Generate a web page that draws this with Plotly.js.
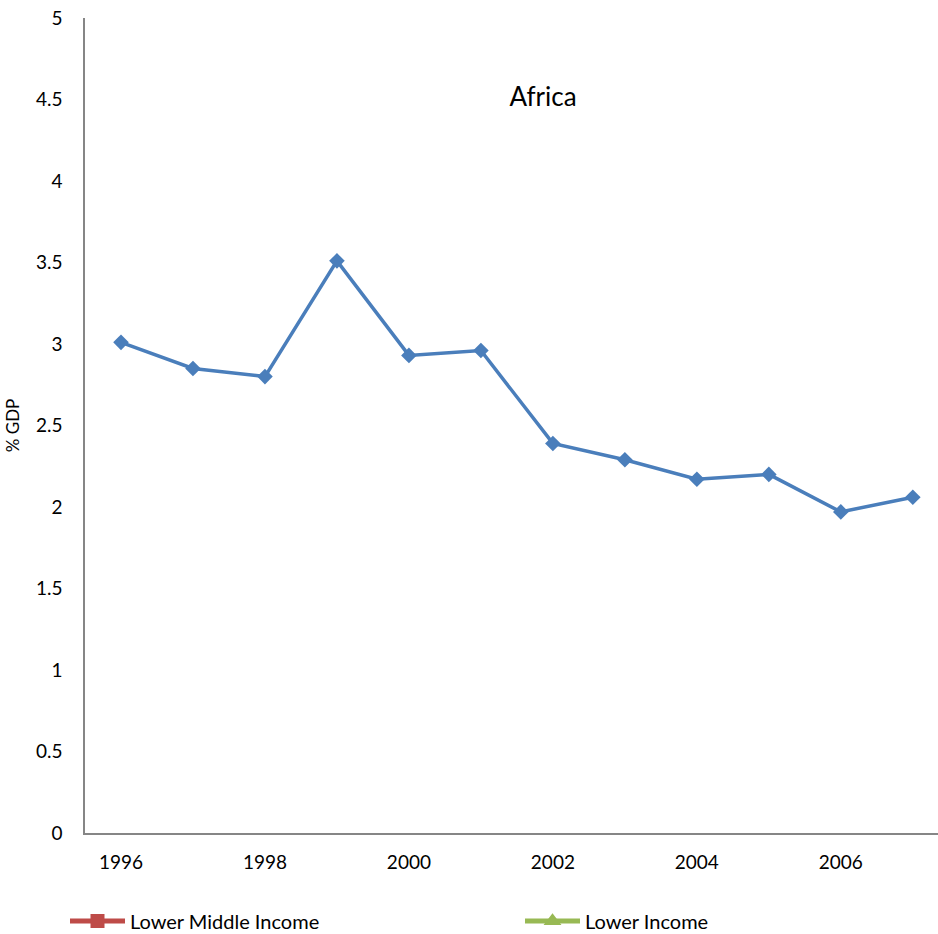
<!DOCTYPE html>
<html>
<head>
<meta charset="utf-8">
<script src="https://cdn.plot.ly/plotly-3.0.1.min.js"></script>
<style>body{margin:0;padding:0;background:#fff;} #chart{width:938px;height:934px;}</style>
</head>
<body>
<div id="chart"></div>
<script>
const years = [1996, 1997, 1998, 1999, 2000, 2001, 2002, 2003, 2004, 2005, 2006, 2007];
const africa = [3.01, 2.85, 2.80, 3.51, 2.93, 2.96, 2.39, 2.29, 2.17, 2.20, 1.97, 2.06];
const lowerMiddle = [null, null, null, null, null, null, null, null, null, null, null, null];
const lower = [null, null, null, null, null, null, null, null, null, null, null, null];
const seriesNames = ['Africa', 'Lower Middle Income', 'Lower Income'];
const fontFam = 'Lato, "Open Sans", sans-serif';

const traces = [
  {x: years, y: africa, name: seriesNames[0], type: 'scatter', mode: 'lines+markers',
   line: {color: '#4A7EBB', width: 3.5}, marker: {symbol: 'diamond', size: 12, color: '#4A7EBB'},
   showlegend: false},
  {x: years, y: lowerMiddle, name: seriesNames[1], type: 'scatter', mode: 'lines+markers',
   line: {color: '#BE4B48', width: 3.5},
   marker: {symbol: 'square', size: 11, color: '#BE4B48', line: {color: '#BE4B48', width: 1}},
   legend: 'legend'},
  {x: years, y: lower, name: seriesNames[2], type: 'scatter', mode: 'lines+markers',
   line: {color: '#98B954', width: 3.5},
   marker: {symbol: 'triangle-up', size: 12, color: '#98B954', line: {color: '#98B954', width: 2}},
   legend: 'legend2'}
];

const legendCommon = {orientation: 'h', xanchor: 'left', y: -88/815, yanchor: 'middle',
  bgcolor: 'rgba(0,0,0,0)', itemsizing: 'constant', font: {family: fontFam, size: 20}, itemwidth: 55};

const layout = {
  width: 938, height: 934,
  margin: {l: 85, r: 0, t: 18, b: 101, autoexpand: false},
  paper_bgcolor: '#fff', plot_bgcolor: '#fff',
  font: {family: fontFam, size: 19, color: '#000'},
  title: {text: 'Africa', x: 543/938, xanchor: 'center', y: 1 - 97/934, yanchor: 'middle',
          font: {family: fontFam, size: 26, color: '#000'}},
  xaxis: {range: [1995.5, 2007.35], tick0: 1996, dtick: 2, showgrid: false, zeroline: false,
          showline: true, linecolor: '#868686', linewidth: 1.5, ticks: '', ticklabelstandoff: 11,
          tickfont: {family: fontFam, size: 19}},
  yaxis: {range: [0, 5], dtick: 0.5, showgrid: false, zeroline: false,
          showline: true, linecolor: '#868686', linewidth: 1.5, ticks: '', ticklabelstandoff: 17,
          tickfont: {family: fontFam, size: 19},
          title: {text: '% GDP', font: {family: fontFam, size: 17}, standoff: 12}},
  legend: Object.assign({}, legendCommon, {x: -20/853}),
  legend2: Object.assign({}, legendCommon, {x: 435/853})
};

Plotly.newPlot('chart', traces, layout, {displayModeBar: false});
</script>
</body>
</html>
